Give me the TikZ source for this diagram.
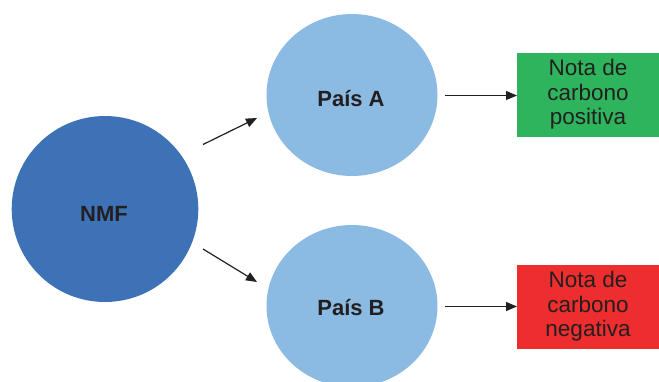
\documentclass[tikz,border=0pt]{standalone}
\usepackage{fontspec}
\setmainfont{Liberation Sans}
\usetikzlibrary{arrows.meta,shapes.geometric}
\definecolor{txt}{HTML}{231F20}
\definecolor{dblue}{HTML}{3D72B7}
\definecolor{lblue}{HTML}{8BBBE2}
\definecolor{pgreen}{HTML}{2EB45C}
\definecolor{pred}{HTML}{EE2D2E}
\tikzset{
  lbl/.style={font=\fontsize{22}{24}\selectfont\bfseries, text=txt, inner sep=0pt},
  bigc/.style={ellipse, fill=dblue, minimum width=186.6pt, minimum height=186pt, inner sep=0pt},
  smallc/.style={ellipse, fill=lblue, minimum width=171pt, minimum height=162pt, inner sep=0pt},
  notebox/.style={rectangle, minimum width=142pt, minimum height=84pt, inner sep=0pt, align=center, font=\fontsize{22.5}{24.5}\selectfont, text=txt},
  arr/.style={-{Triangle[length=11pt,width=9pt]}, line width=1.2pt, draw=txt}
}
\begin{document}
\begin{tikzpicture}[x=1pt,y=-1pt]
\useasboundingbox (0,0) rectangle (659,381);
\clip (0,0) rectangle (659,381);
\node[bigc] (nmf) at (105,209) {};
\node[smallc] (a) at (352,95) {};
\node[smallc] (b) at (352,306) {};
\node[lbl] (tn) at (104,214) {NMF};
\node[lbl] (ta) at (351,99) {País A};
\node[lbl] (tb) at (351,308) {País B};
\node[notebox, fill=pgreen] (pos) at (588,94.5) {Nota de\\carbono\\positiva};
\node[notebox, fill=pred] (neg) at (588,306.5) {Nota de\\carbono\\negativa};
\coordinate (s1) at (203,144.5);
\coordinate (e1) at (257,118);
\coordinate (s2) at (203,249);
\coordinate (e2) at (257,282);
\coordinate (s3) at (445,95.5);
\coordinate (e3) at (517,95.5);
\coordinate (s4) at (445,306.5);
\coordinate (e4) at (517,306.5);
\draw[arr] (s1) -- (e1);
\draw[arr] (s2) -- (e2);
\draw[arr] (s3) -- (e3);
\draw[arr] (s4) -- (e4);
\end{tikzpicture}
\end{document}
